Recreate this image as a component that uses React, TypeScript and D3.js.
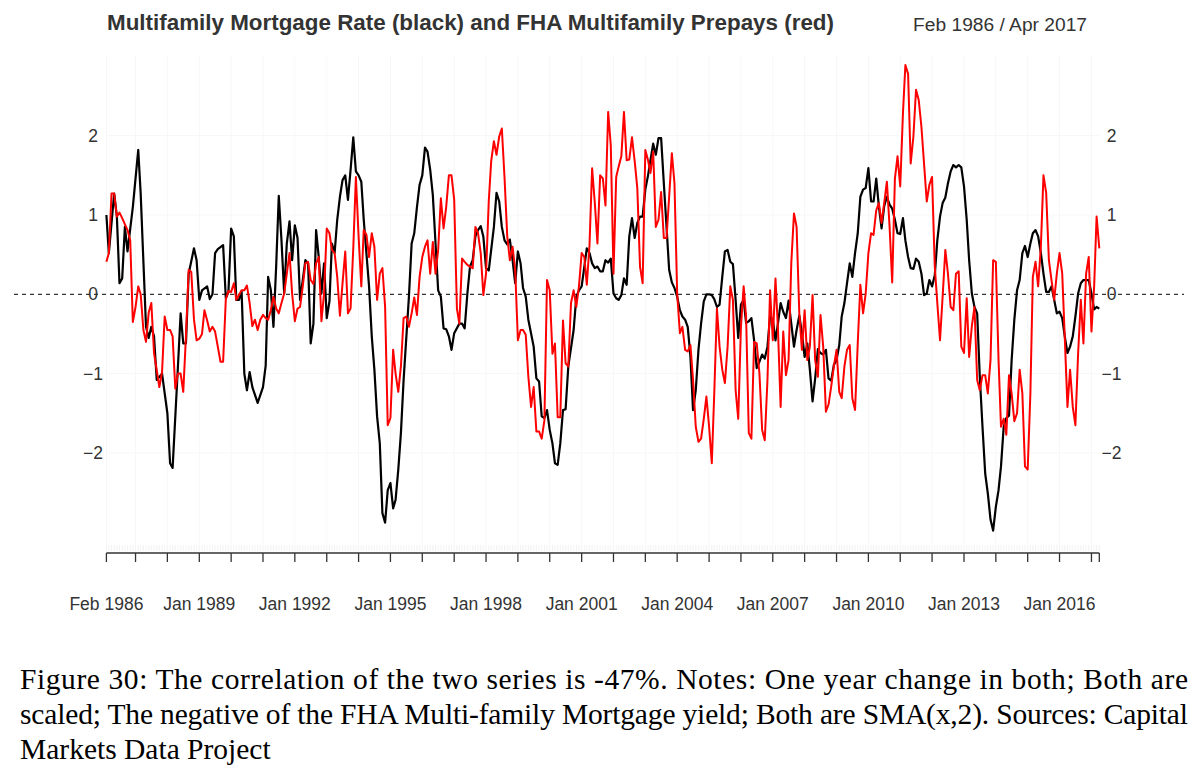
import React, { useEffect, useRef } from 'react';
import * as d3 from 'd3';

// months run from Feb 1986 to Apr 2017 (index 0 = Feb 1986)
const startMonth = new Date(1986, 1, 1);
const endMonth = new Date(2017, 3, 1);
const months = d3.timeMonth.range(startMonth, d3.timeMonth.offset(endMonth, 1));

// values, one per month, null where not read
const n = null;
const blackValues: (number | null)[] = [
    1.0, 0.52, n, 1.27, 0.98, 0.14, 0.2, 0.85, 0.54, n,
    1.1, n, 1.82, 1.27, n, -0.41, -0.55, -0.41, -0.53, -1.08,
    n, -1.0, n, -1.5, -2.13, -2.19, n, -0.91, -0.24, -0.62,
    -0.62, 0.26, n, 0.58, 0.43, -0.07, 0.05, n, 0.1, -0.06,
    0.0, 0.52, 0.57, n, 0.62, -0.05, 0.03, 0.83, 0.73, -0.07,
    -0.07, 0.04, -1.0, -1.21, -0.98, -1.17, n, -1.37, n, -1.17,
    -0.9, 0.22, 0.05, -0.41, 0.35, 1.24, 0.68, 0.01, 0.64, 0.92,
    0.43, 0.87, 0.71, -0.07, 0.18, 0.43, 0.39, -0.62, -0.37, 0.81,
    0.47, 0.01, 0.39, -0.3, -0.09, 0.64, 0.52, 0.94, 1.23, 1.44,
    1.5, 1.19, 1.57, 1.98, 1.55, 1.5, 1.42, 0.94, n, 0.1,
    -0.53, -0.95, -1.54, -1.88, -2.76, -2.88, -2.47, -2.38, -2.7, -2.59,
    -2.21, -1.75, -1.08, n, -0.03, 0.64, 0.77, 1.1, 1.38, 1.5,
    1.85, 1.8, 1.57, 1.25, 0.64, 0.05, -0.03, -0.43, -0.44, -0.53,
    -0.7, -0.49, n, -0.37, -0.37, -0.43, 0.01, 0.35, 0.43, 0.73,
    0.81, 0.86, 0.73, 0.33, 0.3, n, 0.85, 1.28, 1.17, 0.85,
    0.68, 0.63, 0.69, 0.43, 0.14, 0.54, 0.39, 0.08, -0.03, -0.32,
    n, -0.66, -1.06, -1.1, -1.54, -1.56, -1.46, -1.71, -1.88, -2.13,
    -2.15, -1.88, -1.46, -1.45, -0.91, n, -0.45, -0.03, 0.05, 0.1,
    0.35, 0.58, 0.52, 0.39, 0.33, 0.35, 0.29, 0.29, 0.43, 0.4,
    0.45, 0.01, -0.05, -0.07, -0.01, 0.2, 0.12, 0.73, 0.96, 0.71,
    0.9, 0.98, 0.98, 1.32, 1.5, 1.69, 1.9, 1.76, 1.97, 1.97,
    1.4, 0.85, 0.31, 0.15, 0.08, -0.03, -0.2, -0.28, -0.32, -0.41,
    -0.79, -1.46, -1.21, -0.7, -0.37, -0.09, 0, 0, -0.01, -0.06,
    -0.16, -0.13, 0.22, 0.54, 0.56, 0.41, 0.38, -0.07, -0.55, -0.13,
    -0.07, -0.36, -0.34, -0.3, -0.58, -0.93, -0.85, -0.76, -0.81, -0.66,
    -0.28, -0.32, -0.58, -0.37, -0.11, -0.22, -0.3, -0.08, -0.37, -0.66,
    -0.45, -0.27, -0.49, -0.79, -0.62, -0.95, -1.35, -1.06, -0.69, -0.74,
    -0.76, -0.7, -1.06, -1.09, -0.89, -0.83, -0.64, -0.28, -0.11, 0.14,
    0.39, 0.22, 0.52, 0.77, 1.23, 1.32, 1.34, 1.59, 1.17, 1.17,
    1.46, 1.11, 0.83, 1.11, 1.23, 1.13, 1.08, 0.94, 0.77, 0.76,
    0.96, 0.68, 0.47, 0.33, 0.32, 0.45, 0.41, 0.26, -0.01, 0.01,
    0.18, 0.1, 0.24, 0.68, 0.98, 1.15, 1.22, 1.4, 1.55, 1.63,
    1.6, 1.63, 1.6, 1.36, 0.94, 0.43, 0.01, -0.16, -0.24, -1.04,
    -1.67, -2.26, -2.51, -2.84, -2.98, -2.68, -2.47, -2.17, -1.67, -1.56,
    -1.53, -0.83, -0.32, 0.05, 0.18, 0.52, 0.61, 0.47, 0.64, 0.77,
    0.81, 0.73, 0.52, 0.26, 0.03, 0.03, 0.1, -0.07, -0.24, -0.22,
    -0.3, -0.53, -0.74, -0.66, -0.53, -0.28, 0.01, 0.14, 0.18, 0.18,
    0.18, 0.01, -0.19, -0.16, -0.18,
];

const redValues: (number | null)[] = [
    0.41, 0.52, 1.27, 1.27, 0.98, 1.03, 0.96, n, 0.81, 0.68,
    -0.35, -0.16, 0.1, 0.0, -0.45, -0.6, -0.23, -0.11, -0.74, n,
    -1.17, -0.98, -0.28, -0.45, -0.45, -0.53, -1.19, -1.0, -1.0, -1.23,
    -0.53, 0.31, 0.28, -0.32, -0.58, -0.56, -0.5, -0.2, -0.33, -0.47,
    -0.41, -0.47, n, -0.85, -0.85, -0.06, 0.04, 0.03, 0.14, -0.07,
    n, 0.05, 0.05, 0.11, -0.11, -0.4, -0.32, -0.45, -0.32, -0.26,
    -0.3, -0.32, -0.2, -0.03, -0.18, -0.24, -0.11, 0.01, 0.26, 0.52,
    0.01, -0.34, -0.18, -0.16, 0.1, 0.39, 0.41, 0.18, 0.13, 0.39,
    0.47, -0.34, 0.01, 0.83, 0.77, 0.56, 0.52, 0.22, -0.27, 0.14,
    0.54, -0.24, -0.18, 0.58, 1.48, 0.73, 0.1, 0.81, 0.75, 0.47,
    0.77, 0.6, -0.07, 0.26, 0.33, -0.16, -1.65, -1.56, -0.7, -1.0,
    -1.23, -0.91, -0.3, -0.28, -0.41, -0.24, -0.04, -0.26, 0.22, 0.47,
    0.6, 0.68, 0.26, 0.66, 0.26, 0.56, 1.21, 0.83, 1.1, 1.5,
    1.5, 1.19, -0.18, -0.37, 0.45, 0.41, 0.37, 0.35, 0.33, 0.85,
    0.77, 0.52, -0.01, 0.26, 1.17, 1.68, 1.93, 1.76, 1.99, 2.09,
    1.47, 0.73, 0.43, 0.6, 0.31, -0.58, -0.45, -0.45, -0.51, -1.04,
    -1.42, -1.17, -1.73, -1.73, -1.82, -1.59, 0.18, 0.05, -0.75, -0.62,
    -1.55, -1.55, -0.33, -0.87, -0.91, -0.11, 0.05, -0.16, 0.1, 0.52,
    0.47, 0.12, 0.62, 1.59, 1.15, 0.64, 1.5, 1.46, 1.12, 2.3,
    1.88, 0.26, 1.48, 1.61, 1.74, 2.3, 1.69, 1.7, 1.98, 1.68,
    1.34, 0.35, 0.14, 1.82, 1.69, 1.53, 1.8, 0.85, 0.94, 1.29,
    0.71, 0.71, 1.23, 1.78, 1.4, 0.01, -0.49, -0.41, -0.7, -0.72,
    -0.64, -1.08, -1.67, -1.86, -1.82, -1.57, -1.29, -1.67, -2.13, -1.25,
    -0.18, -0.66, -0.95, -1.12, -0.66, 0.1, -0.07, -1.21, -1.57, -0.41,
    0.1, -0.28, -1.75, -1.82, -0.6, -0.62, -1.0, -1.71, -1.84, -1.08,
    0.05, -0.58, 0.2, -0.43, -1.42, -0.47, -1.02, -0.83, 0.39, 1.02,
    0.85, -0.24, -0.7, -0.2, -0.83, -0.66, -0.01, -0.83, -1.04, -0.26,
    -0.66, -1.48, -1.39, -1.16, -0.91, -0.7, -1.23, -1.31, -0.91, -0.7,
    -0.64, -1.31, -1.46, -0.62, 0.12, -0.24, 0.01, 0.52, 0.77, 0.75,
    1.06, 1.15, 0.9, 1.15, 1.42, 0.85, 0.15, 1.46, 1.74, 1.36,
    2.28, 2.89, 2.78, 1.65, 1.99, 2.58, 2.45, 2.11, 1.65, 1.17,
    1.38, 1.48, 0.35, -0.11, -0.58, -0.03, 0.56, 0.26, -0.16, -0.2,
    0.26, 0.29, -0.66, -0.74, -0.05, -0.79, -0.4, -0.16, -1.08, -1.21,
    -1.02, -1.02, -1.25, -0.83, 0.43, 0.41, -0.83, -1.67, -1.57, -1.77,
    -1.02, -1.25, -1.6, -1.5, -0.95, -1.25, -2.17, -2.21, -1.25, 0.22,
    0.41, 0.1, 0.6, 1.5, 1.28, 0.43, 0.18, -0.07, 0.26, 0.52,
    0.26, -0.54, -1.42, -0.95, -1.42, -1.65, -0.75, -0.07, -0.62, 0.26,
    0.47, -0.47, 0.1, 0.98, 0.58,
];

const yTicks = [-2, -1, 0, 1, 2];
// axis ticks: first month, then every January
const tickDates = [startMonth, ...d3.timeYear.range(new Date(1987, 0, 1), new Date(2017, 1, 1))];
const labelDates = [startMonth, ...d3.timeYear.range(new Date(1989, 0, 1), new Date(2017, 0, 1), 3)];

const titleText = 'Multifamily Mortgage Rate (black) and FHA Multifamily Prepays (red)';
const periodText = 'Feb 1986 / Apr 2017';
const captionLines = [
    'Figure 30: The correlation of the two series is -47%. Notes: One year change in both; Both are',
    'scaled; The negative of the FHA Multi-family Mortgage yield; Both are SMA(x,2). Sources: Capital',
    'Markets Data Project',
];

const sans = '"Liberation Sans", Arial, Helvetica, sans-serif';
const serif = '"Liberation Serif", "Times New Roman", serif';

const App: React.FC = () => {
    const svgRef = useRef<SVGSVGElement>(null);

    useEffect(() => {
        document.body.style.margin = '0';
        const svg = d3.select(svgRef.current);
        svg.selectAll('*').remove();

        const x = d3.scaleTime().domain([startMonth, endMonth]).range([106.4, 1099.3]);
        const y = d3.scaleLinear().domain([-3, 3]).range([532.2, 56.4]);
        const axisY = 553;

        // faint grid
        const grid = svg.append('g').attr('stroke', '#f7f7f7').attr('stroke-width', 1);
        grid.selectAll('.vg').data(tickDates).enter().append('line')
            .attr('x1', d => x(d)).attr('x2', d => x(d))
            .attr('y1', 56).attr('y2', 545);
        grid.selectAll('.hg').data(yTicks.filter(t => t !== 0)).enter().append('line')
            .attr('x1', x(startMonth)).attr('x2', x(endMonth))
            .attr('y1', d => y(d)).attr('y2', d => y(d));

        // light monthly rug above the axis
        svg.append('g').attr('stroke', '#ececec').attr('stroke-width', 0.7)
            .selectAll('line').data(months).enter().append('line')
            .attr('x1', d => x(d)).attr('x2', d => x(d))
            .attr('y1', 545).attr('y2', 551);

        // zero line
        svg.append('line')
            .attr('x1', 14).attr('x2', 1184)
            .attr('y1', y(0)).attr('y2', y(0))
            .attr('stroke', '#000').attr('stroke-width', 1)
            .attr('stroke-dasharray', '4,4');

        // x axis
        const axis = svg.append('g').attr('transform', `translate(0,${axisY})`);
        axis.append('line')
            .attr('x1', x(startMonth)).attr('x2', x(endMonth))
            .attr('stroke', '#333').attr('stroke-width', 1.3);
        axis.selectAll('.tick').data([...tickDates, endMonth]).enter().append('line')
            .attr('x1', d => x(d)).attr('x2', d => x(d))
            .attr('y1', 0).attr('y2', 9)
            .attr('stroke', '#333').attr('stroke-width', 1.3);
        const fmt = d3.timeFormat('%b %Y');
        axis.selectAll('.lbl').data(labelDates).enter().append('text')
            .attr('x', d => x(d)).attr('y', 57)
            .attr('text-anchor', 'middle')
            .style('font-family', sans).style('font-size', '17.5px').style('fill', '#333')
            .text(d => fmt(d));

        // y labels on both sides
        [93, 1111.5].forEach(lx => {
            svg.append('g').selectAll('text').data(yTicks).enter().append('text')
                .attr('x', lx).attr('y', d => y(d)).attr('dy', '0.35em')
                .attr('text-anchor', 'middle')
                .style('font-family', sans).style('font-size', '17.5px').style('fill', '#333')
                .text(d => (d < 0 ? '\u2212' + Math.abs(d) : String(d)));
        });

        // series
        const line = d3.line<{ date: Date; value: number }>()
            .x(d => x(d.date))
            .y(d => y(d.value));
        const toPoints = (vals: (number | null)[]) =>
            vals.map((v, i) => ({ date: months[i], value: v }))
                .filter((p): p is { date: Date; value: number } => p.value !== null && p.date !== undefined);

        svg.append('path')
            .datum(toPoints(blackValues))
            .attr('d', line)
            .attr('fill', 'none').attr('stroke', '#000').attr('stroke-width', 2.2)
            .attr('stroke-linejoin', 'round');
        svg.append('path')
            .datum(toPoints(redValues))
            .attr('d', line)
            .attr('fill', 'none').attr('stroke', '#ff0000').attr('stroke-width', 2)
            .attr('stroke-linejoin', 'round');

        // titles
        svg.append('text')
            .attr('x', 107).attr('y', 30)
            .style('font-family', sans).style('font-size', '22.4px').style('font-weight', 'bold')
            .style('fill', '#333')
            .text(titleText);
        svg.append('text')
            .attr('x', 1087).attr('y', 31).attr('text-anchor', 'end')
            .style('font-family', sans).style('font-size', '19.2px').style('fill', '#333')
            .text(periodText);

        // caption
        captionLines.forEach((t, i) => {
            const txt = svg.append('text')
                .attr('x', 20).attr('y', 689 + i * 35)
                .style('font-family', serif).style('font-size', '29.5px').style('fill', '#000')
                .text(t);
            if (i < captionLines.length - 1) {
                txt.attr('textLength', 1168).attr('lengthAdjust', 'spacing');
            }
        });
    }, []);

    return <svg ref={svgRef} width={1198} height={770} style={{ display: 'block' }}></svg>;
};

export default App;
